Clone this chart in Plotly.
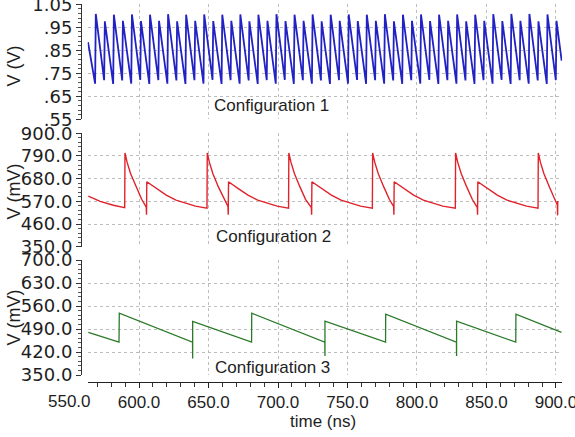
import plotly.graph_objects as go

# ---------------- data ----------------
# Configuration 1 (V): fast-rise sawtooth
C1_START = (563.3, 0.885)
C1_END = (904.1, 0.805)
C1_RISE_NS = 0.5
C1_PEAK_T = [568.9, 575.4, 581.9, 588.4, 594.9, 601.4, 607.9, 614.4, 620.9, 627.4,
             633.9, 640.4, 646.9, 653.4, 659.9, 666.4, 672.9, 679.4, 685.9, 692.4,
             698.9, 705.4, 711.9, 718.4, 724.9, 731.4, 737.9, 744.4, 750.9, 757.4,
             763.9, 770.4, 776.9, 783.4, 789.9, 796.4, 802.9, 809.4, 815.9, 822.4,
             828.9, 835.4, 841.9, 848.4, 854.9, 861.4, 867.9, 874.4, 880.9, 887.4,
             893.9, 900.4]
C1_PEAK_V = [1.008, 0.976, 1.005, 0.978, 1.006, 0.977, 1.005, 0.978, 1.007, 0.976,
             1.005, 0.978, 1.006, 0.977, 1.005, 0.978, 1.006, 0.976, 1.005, 0.978,
             1.007, 0.977, 1.005, 0.978, 1.006, 0.976, 1.005, 0.978, 1.006, 0.977,
             1.005, 0.978, 1.007, 0.976, 1.005, 0.978, 1.006, 0.977, 1.005, 0.978,
             1.006, 0.976, 1.005, 0.978, 1.007, 0.977, 1.008, 0.978, 1.008, 0.976,
             1.006, 0.978]
C1_TROUGH_V = [0.705, 0.720, 0.704, 0.719, 0.705, 0.721, 0.704, 0.720, 0.705, 0.719,
               0.704, 0.720, 0.705, 0.721, 0.704, 0.720, 0.705, 0.719, 0.704, 0.720,
               0.705, 0.721, 0.704, 0.720, 0.705, 0.719, 0.704, 0.720, 0.705, 0.721,
               0.704, 0.720, 0.705, 0.719, 0.704, 0.720, 0.705, 0.721, 0.704, 0.720,
               0.705, 0.719, 0.704, 0.720, 0.705, 0.721, 0.704, 0.720, 0.705, 0.719,
               0.704, 0.720]

# Configuration 2 (mV)
C2_T = [563.5, 572.0, 581.5, 589.7,
        589.9, 591.4, 593.9, 597.9, 601.9, 605.2, 605.4, 605.6,
        612.6, 619.6, 626.6, 633.6, 640.6, 648.9,
        649.1, 650.6, 653.1, 657.1, 661.1, 664.0, 664.2, 664.4,
        671.4, 678.4, 685.4, 692.4, 699.4, 707.6,
        707.8, 709.3, 711.8, 715.8, 719.8, 724.0, 724.2, 724.4,
        731.4, 738.4, 745.4, 752.4, 759.4, 767.9,
        768.1, 769.6, 772.1, 776.1, 780.1, 783.2, 783.4, 783.6,
        790.6, 797.6, 804.6, 811.6, 818.6, 827.6,
        827.8, 829.3, 831.8, 835.8, 839.8, 843.4, 843.6, 843.8,
        850.8, 857.8, 864.8, 871.8, 878.8, 887.1,
        887.3, 888.8, 891.3, 895.3, 899.3, 901.0, 901.2, 901.3]
C2_V = [595, 570, 551, 539,
        805, 760, 705, 640, 580, 542, 505, 665,
        632, 600, 576, 560, 547, 537,
        805, 760, 705, 640, 580, 545, 505, 665,
        632, 600, 576, 560, 547, 537,
        805, 760, 705, 640, 580, 540, 505, 665,
        632, 600, 576, 560, 547, 537,
        805, 760, 705, 640, 580, 545, 505, 665,
        632, 600, 576, 560, 547, 537,
        805, 760, 705, 640, 580, 540, 505, 665,
        632, 600, 576, 560, 547, 537,
        805, 760, 705, 640, 580, 552, 502, 572]

# Configuration 3 (mV)
C3_T = [563.5, 585.6, 585.8, 638.5, 638.6, 638.6, 681.0, 681.1,
        733.7, 733.8, 733.8, 777.4, 777.5, 828.4, 828.5, 828.5,
        871.1, 871.2, 904.0]
C3_V = [480, 450, 538, 450, 400, 513, 450, 538,
        450, 408, 514, 450, 535, 450, 408, 514,
        450, 535, 480]

X_TICKS = [550, 600, 650, 700, 750, 800, 850, 900]
X_TICKTEXT = ["550.0", "600.0", "650.0", "700.0", "750.0", "800.0", "850.0", "900.0"]
Y1_TICKS = [0.55, 0.65, 0.75, 0.85, 0.95, 1.05]
Y1_TICKTEXT = [".55", ".65", ".75", ".85", ".95", "1.05"]
Y2_TICKS = [350, 460, 570, 680, 790, 900]
Y2_TICKTEXT = ["350.0", "460.0", "570.0", "680.0", "790.0", "900.0"]
Y3_TICKS = [350, 420, 490, 560, 630, 700]
Y3_TICKTEXT = ["350.0", "420.0", "490.0", "560.0", "630.0", "700.0"]
LABELS = ["Configuration 1", "Configuration 2", "Configuration 3"]

# ---------------- build traces ----------------
c1_t = [C1_START[0]]
c1_v = [C1_START[1]]
for pt, pv, tv in zip(C1_PEAK_T, C1_PEAK_V, C1_TROUGH_V):
    c1_t += [pt - C1_RISE_NS, pt]
    c1_v += [tv, pv]
c1_t.append(C1_END[0])
c1_v.append(C1_END[1])

W, H = 575, 437
X_RANGE = [563, 904.5]
X_DOMAIN = [87.6 / W, 562.2 / W]
Y_AXIS_POS = 81 / W
D1 = [1 - 119.3 / H, 1 - 4.3 / H]
D2 = [1 - 246.7 / H, 1 - 133.3 / H]
D3 = [1 - 375.0 / H, 1 - 260.0 / H]
XLINE_POS = 1 - 381.7 / H

GRID = dict(showgrid=True, gridcolor="#bdbdbd", griddash="dot", gridwidth=1)
TXT = "#1e1e1e"

fig = go.Figure()
fig.add_trace(go.Scatter(x=c1_t, y=c1_v, mode="lines", xaxis="x", yaxis="y",
                         line=dict(color="#2121c4", width=1.8), showlegend=False))
fig.add_trace(go.Scatter(x=C2_T, y=C2_V, mode="lines", xaxis="x2", yaxis="y2",
                         line=dict(color="#e0232b", width=1.4), showlegend=False))
fig.add_trace(go.Scatter(x=C3_T, y=C3_V, mode="lines", xaxis="x3", yaxis="y3",
                         line=dict(color="#2a7a2a", width=1.3), showlegend=False))

def xax(anchor, **kw):
    d = dict(domain=X_DOMAIN, range=X_RANGE, anchor=anchor, tickmode="array",
             tickvals=X_TICKS, ticktext=X_TICKTEXT, showticklabels=False,
             ticks="", showline=False, zeroline=False, automargin=False, **GRID)
    d.update(kw)
    return d

def yax(domain, vals, text, minor_dtick, **kw):
    d = dict(domain=domain, range=[vals[0], vals[-1]], anchor="free", position=Y_AXIS_POS,
             tickmode="array", tickvals=vals, ticktext=text, ticks="outside", ticklen=5,
             tickcolor="#333", showline=True, linecolor="#333", linewidth=1,
             zeroline=False, automargin=False, ticklabeloverflow="allow",
             tickfont=dict(family="DejaVu Sans", size=18, color=TXT),
             minor=dict(dtick=minor_dtick, tick0=vals[0], ticks="outside", ticklen=3,
                        tickcolor="#555", showgrid=False),
             **GRID)
    d.update(kw)
    return d

fig.update_layout(
    width=W, height=H, margin=dict(l=0, r=0, t=0, b=0, autoexpand=False),
    paper_bgcolor="white", plot_bgcolor="white",
    xaxis=xax("y"),
    xaxis2=xax("y2", matches="x"),
    xaxis3=xax("free", matches="x", position=XLINE_POS, showticklabels=True,
               ticks="outside", ticklen=5, tickcolor="#222", showline=True,
               linecolor="#222", linewidth=1, ticklabeloverflow="allow",
               tickfont=dict(family="Liberation Sans", size=17, color=TXT),
               minor=dict(dtick=10, tick0=0, ticks="outside", ticklen=4,
                          tickcolor="#333", showgrid=False)),
    yaxis=yax(D1, Y1_TICKS, Y1_TICKTEXT, 0.02),
    yaxis2=yax(D2, Y2_TICKS, Y2_TICKTEXT, 22),
    yaxis3=yax(D3, Y3_TICKS, Y3_TICKTEXT, 14),
)

ann_font = dict(family="Liberation Sans", size=17, color=TXT)
title_font = dict(family="Liberation Sans", size=18, color=TXT)
anns = [
    dict(text=LABELS[0], x=271 / W, y=1 - 105 / H),
    dict(text=LABELS[1], x=273.5 / W, y=1 - 236 / H),
    dict(text=LABELS[2], x=272.5 / W, y=1 - 367 / H),
]
for a in anns:
    fig.add_annotation(xref="paper", yref="paper", showarrow=False, xanchor="center",
                       yanchor="middle", font=ann_font, **a)
for txt, yc in [("V (V)", 66), ("V (mV)", 192), ("V (mV)", 318)]:
    fig.add_annotation(xref="paper", yref="paper", x=13.5 / W, y=1 - yc / H, text=txt,
                       textangle=-90, showarrow=False, xanchor="center", yanchor="middle",
                       font=title_font)
fig.add_annotation(xref="paper", yref="paper", x=323 / W, y=1 - 421 / H, text="time (ns)",
                   showarrow=False, xanchor="center", yanchor="middle", font=ann_font)
# first x tick label sits left of the plotted time window
fig.add_annotation(xref="paper", yref="paper", x=69.5 / W, y=1 - 401 / H, text=X_TICKTEXT[0],
                   showarrow=False, xanchor="center", yanchor="middle",
                   font=dict(family="Liberation Sans", size=17, color=TXT))

# the page's default 8px body margin would shift the 575x437 figure inside the window
fig.write_html("out.html", config={"displayModeBar": False},
               post_script="document.body.style.margin='0px';")
